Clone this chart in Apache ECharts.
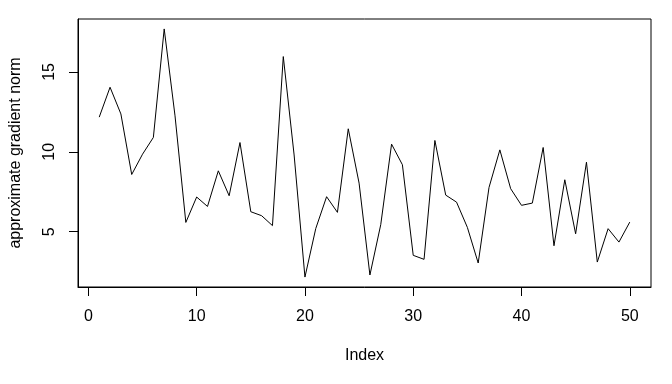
<!DOCTYPE html>
<html>
<head>
<meta charset="utf-8">
<script src="https://cdn.jsdelivr.net/npm/echarts@6/dist/echarts.min.js"></script>
<style>html,body{margin:0;padding:0;background:#fff;}#c{width:672px;height:384px;}</style>
</head>
<body>
<div id="c"></div>
<script>
var indexValues = [1,2,3,4,5,6,7,8,9,10,11,12,13,14,15,16,17,18,19,20,21,22,23,24,25,26,27,28,29,30,31,32,33,34,35,36,37,38,39,40,41,42,43,44,45,46,47,48,49,50];
var gradNorm = [12.17,14.04,12.37,8.58,9.85,10.9,17.69,12.25,5.58,7.17,6.58,8.81,7.25,10.58,6.25,6.0,5.38,15.96,9.8,2.16,5.2,7.19,6.21,11.44,8.04,2.29,5.44,10.48,9.19,3.52,3.27,10.71,7.29,6.85,5.27,3.04,7.77,10.12,7.69,6.65,6.79,10.27,4.12,8.25,4.87,9.35,3.1,5.19,4.35,5.6];
var xTicks = [0,10,20,30,40,50];
var yTicks = [5,10,15];

var xmin = Math.min.apply(null, indexValues), xmax = Math.max.apply(null, indexValues);
var ymin = Math.min.apply(null, gradNorm), ymax = Math.max.apply(null, gradNorm);
var xpad = 0.04*(xmax-xmin), ypad = 0.04*(ymax-ymin);
var font = '"Liberation Sans", Arial, sans-serif';

var chart = echarts.init(document.getElementById('c'), null, {renderer:'canvas'});
chart.setOption({
  animation: false,
  backgroundColor: '#fff',
  grid: {left: 77, right: 21, top: 19, bottom: 97, show: true, borderColor: '#000', borderWidth: 1, backgroundColor: 'transparent'},
  xAxis: {
    type: 'value', min: xmin - xpad, max: xmax + xpad,
    name: 'Index', nameLocation: 'middle', nameGap: 61,
    nameTextStyle: {fontFamily: font, fontSize: 16, color: '#000'},
    axisLine: {show: true, onZero: false, lineStyle: {color: '#000', width: 1}},
    axisTick: {show: true, inside: false, length: 9, customValues: xTicks, lineStyle: {color: '#000'}},
    axisLabel: {customValues: xTicks, margin: 22, fontFamily: font, fontSize: 16, color: '#000'},
    splitLine: {show: false}
  },
  yAxis: {
    type: 'value', min: ymin - ypad, max: ymax + ypad,
    name: 'approximate gradient norm', nameLocation: 'middle', nameGap: 54, nameRotate: 90,
    nameTextStyle: {fontFamily: font, fontSize: 16, color: '#000'},
    axisLine: {show: true, onZero: false, lineStyle: {color: '#000', width: 1}},
    axisTick: {show: true, inside: false, length: 9, customValues: yTicks, lineStyle: {color: '#000'}},
    axisLabel: {customValues: yTicks, rotate: 90, margin: 20, fontFamily: font, fontSize: 16, color: '#000'},
    splitLine: {show: false}
  },
  series: [{
    type: 'line',
    data: indexValues.map(function(x, i){ return [x, gradNorm[i]]; }),
    showSymbol: false,
    lineStyle: {color: '#000', width: 1},
    itemStyle: {color: '#000'}
  }]
});
</script>
</body>
</html>
